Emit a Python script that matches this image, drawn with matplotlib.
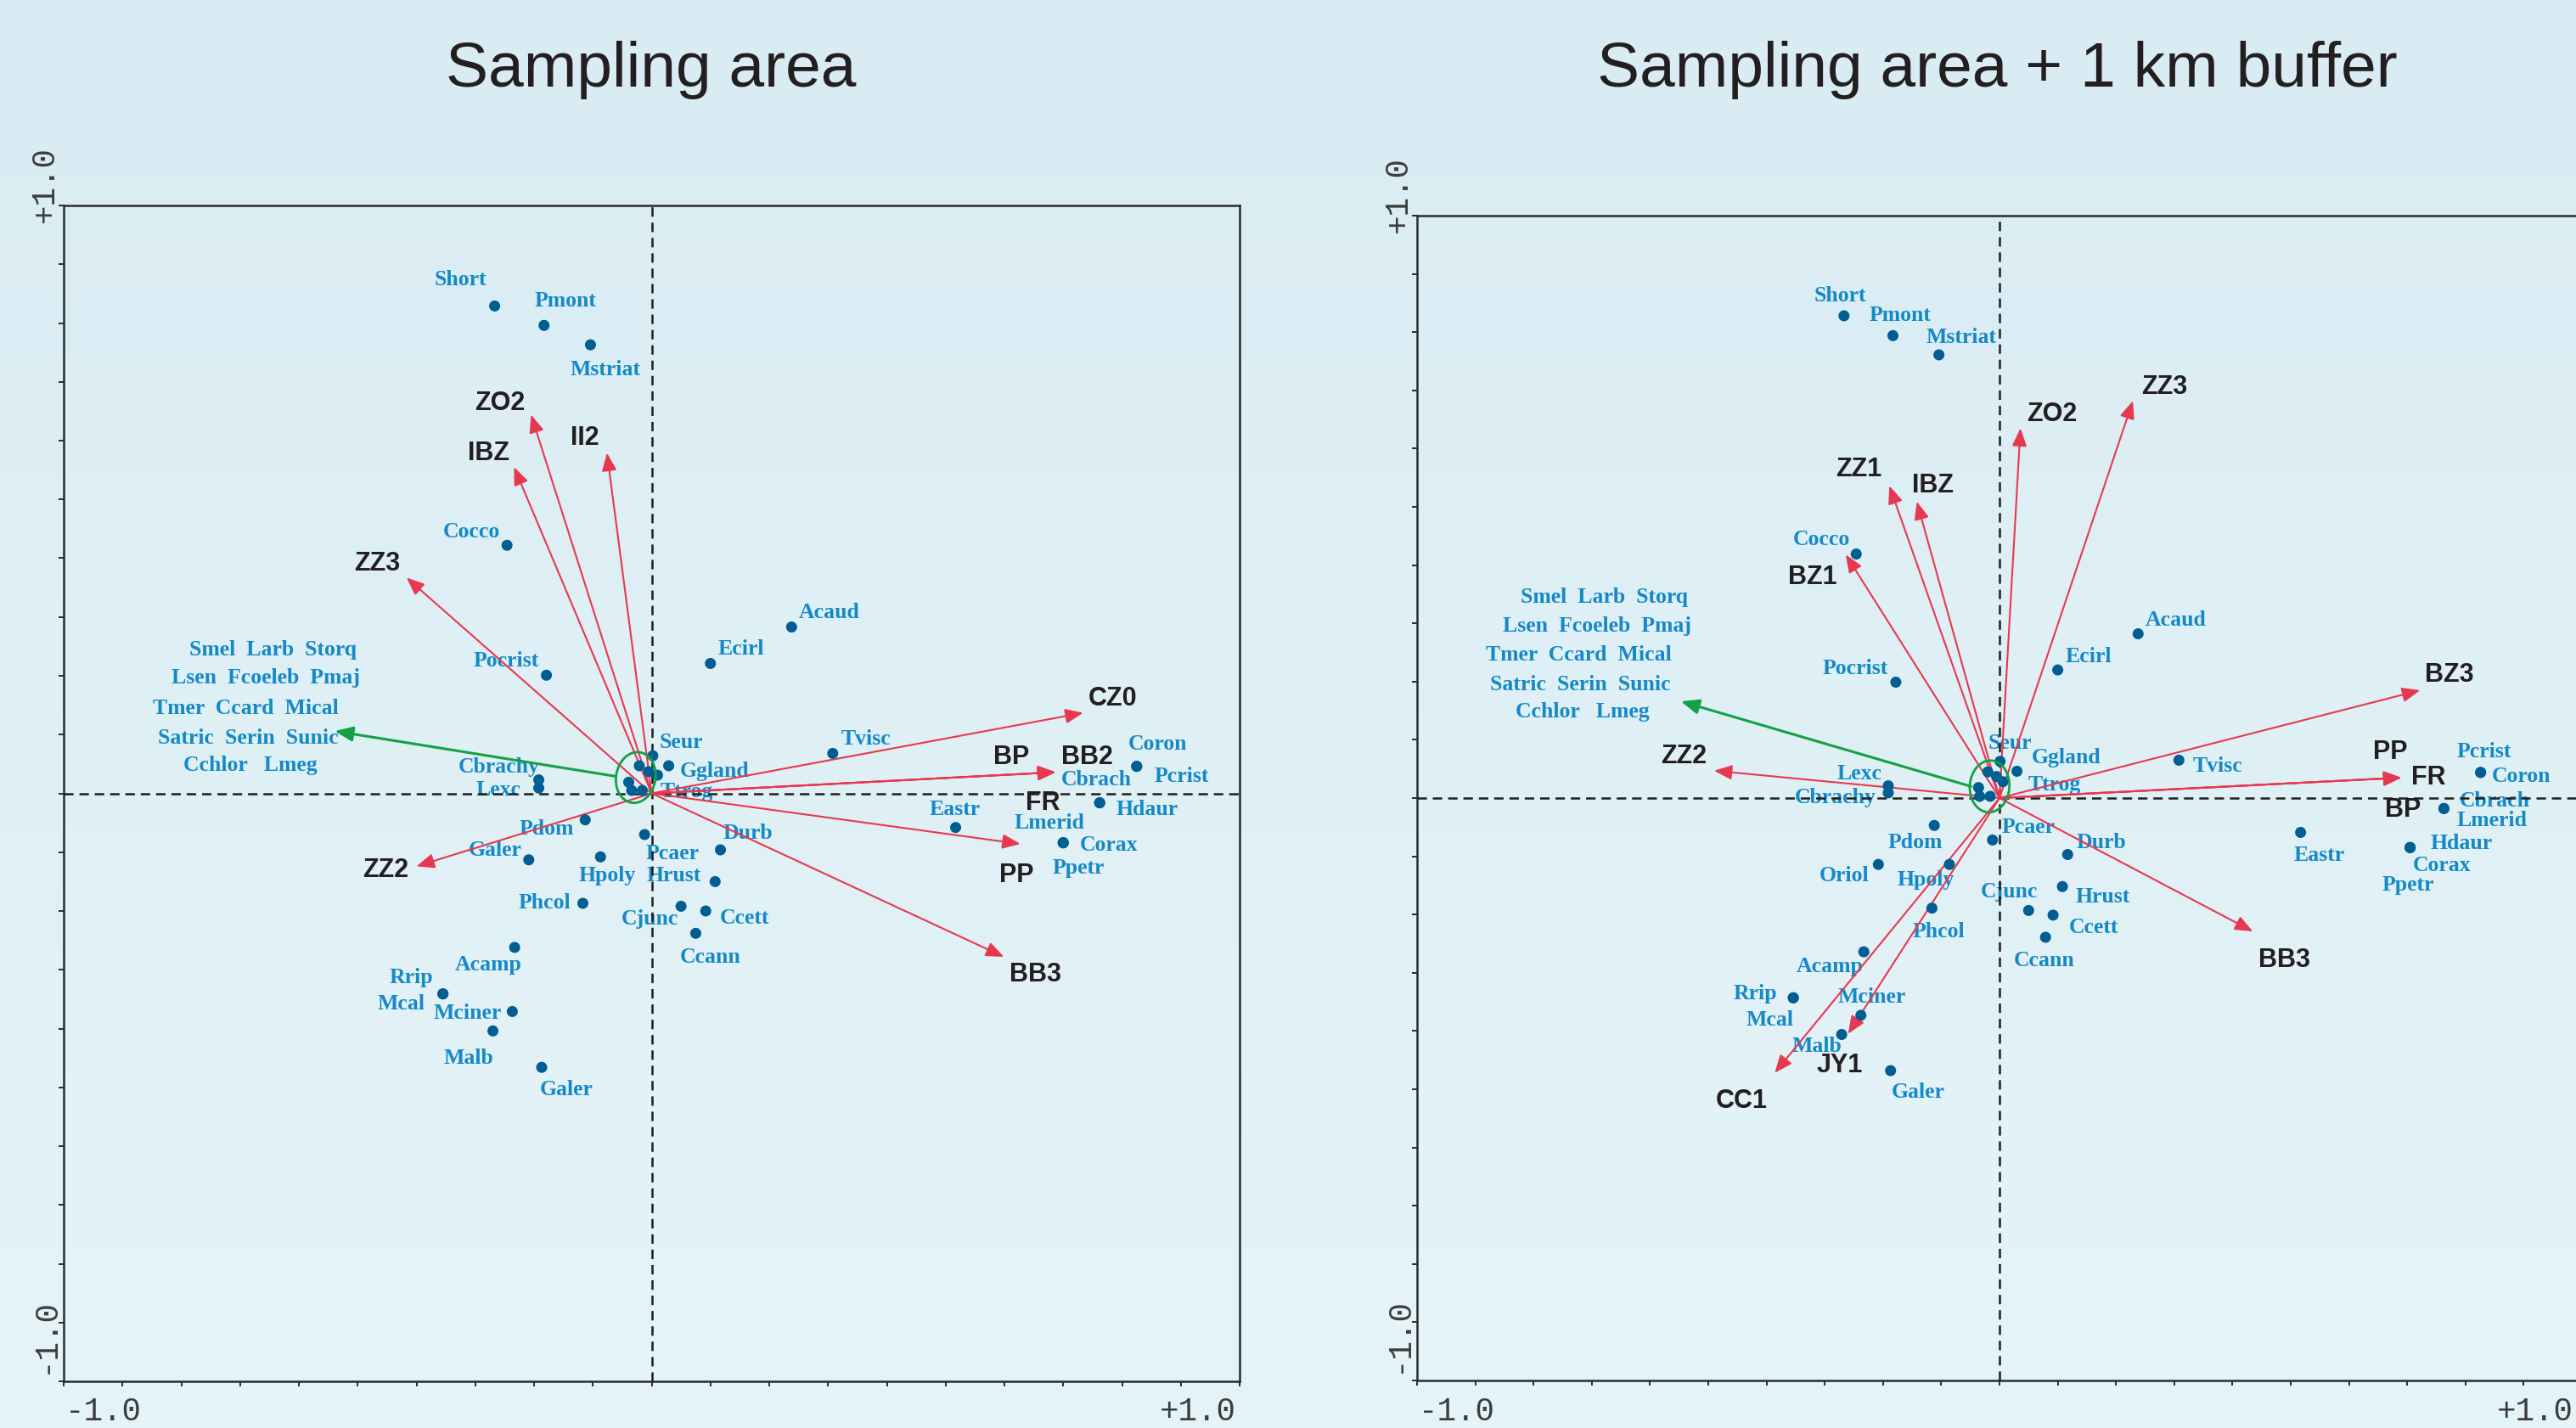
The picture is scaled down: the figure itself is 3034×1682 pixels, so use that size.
import numpy as np
import matplotlib
matplotlib.use("Agg")
import matplotlib.pyplot as plt
from matplotlib.patches import Ellipse

plt.rcParams['lines.scale_dashes'] = False

# ---------------- DATA ----------------
titles = ["Sampling area", "Sampling area + 1 km buffer"]

# Left panel – species scores
L_species = ["Short", "Pmont", "Mstriat", "Cocco", "Pocrist", "Cbrachy", "Lexc", "Seur", "Ggland", "Ttrog",
             "Acaud", "Ecirl", "Tvisc", "Coron", "Pcrist", "Cbrach", "Hdaur", "Lmerid", "Corax", "Ppetr",
             "Eastr", "Durb", "Pcaer", "Hrust", "Hpoly", "Cjunc", "Ccett", "Ccann", "Pdom", "Galer",
             "Phcol", "Acamp", "Rrip", "Mcal", "Mciner", "Malb", "Galer"]
L_x = [-0.267, -0.183, -0.104, -0.246, -0.179, -0.192, -0.192, 0.002, 0.029, 0.010,
       0.238, 0.100, 0.308, 0.825, 0.825, 0.762, 0.762, 0.700, 0.700, 0.700,
       0.517, 0.117, -0.012, 0.108, -0.087, 0.050, 0.092, 0.075, -0.113, -0.209,
       -0.117, -0.233, -0.355, -0.355, -0.237, -0.270, -0.187]
L_y = [0.829, 0.796, 0.763, 0.422, 0.201, 0.023, 0.009, 0.064, 0.047, 0.031,
       0.283, 0.221, 0.068, 0.046, 0.046, -0.016, -0.016, -0.084, -0.084, -0.084,
       -0.058, -0.096, -0.070, -0.150, -0.108, -0.192, -0.200, -0.238, -0.045, -0.113,
       -0.187, -0.262, -0.341, -0.341, -0.371, -0.404, -0.466]
# unlabelled species in the central cluster
L_cluster_x = [-0.021, -0.005, -0.039, -0.034, -0.016]
L_cluster_y = [0.047, 0.037, 0.019, 0.005, 0.005]
L_cluster_names = ["Smel  Larb  Storq", "Lsen  Fcoeleb  Pmaj", "Tmer  Ccard  Mical",
                   "Satric  Serin  Sunic", "Cchlor   Lmeg"]

# Left panel – environmental arrows
L_env = ["ZO2", "IBZ", "II2", "ZZ3", "CZ0", "BP", "BB2", "FR", "PP", "BB3", "ZZ2"]
L_env_x = [-0.205, -0.234, -0.076, -0.417, 0.734, 0.687, 0.687, 0.687, 0.627, 0.599, -0.400]
L_env_y = [0.644, 0.555, 0.579, 0.367, 0.137, 0.036, 0.036, 0.036, -0.086, -0.278, -0.124]
L_group_tip = (-0.539, 0.106)

# Right panel – species scores
R_species = ["Short", "Pmont", "Mstriat", "Cocco", "Pocrist", "Acaud", "Ecirl", "Tvisc", "Pcrist", "Coron",
             "Cbrach", "Lmerid", "Hdaur", "Corax", "Ppetr", "Eastr", "Seur", "Ggland", "Ttrog", "Lexc",
             "Cbrachy", "Pdom", "Pcaer", "Oriol", "Hpoly", "Phcol", "Durb", "Hrust", "Cjunc", "Ccett",
             "Ccann", "Acamp", "Rrip", "Mcal", "Mciner", "Malb", "Galer"]
R_x = [-0.267, -0.183, -0.104, -0.246, -0.178, 0.238, 0.100, 0.308, 0.826, 0.826,
       0.763, 0.763, 0.705, 0.705, 0.705, 0.517, 0.001, 0.030, 0.006, -0.191,
       -0.191, -0.112, -0.012, -0.208, -0.086, -0.116, 0.117, 0.108, 0.050, 0.092,
       0.079, -0.233, -0.354, -0.354, -0.238, -0.271, -0.187]
R_y = [0.828, 0.794, 0.761, 0.419, 0.199, 0.282, 0.220, 0.065, 0.044, 0.044,
       -0.018, -0.018, -0.085, -0.085, -0.085, -0.059, 0.063, 0.046, 0.028, 0.021,
       0.009, -0.047, -0.072, -0.114, -0.114, -0.189, -0.097, -0.152, -0.193, -0.201,
       -0.239, -0.264, -0.343, -0.343, -0.373, -0.406, -0.468]
R_cluster_x = [-0.020, -0.005, -0.036, -0.034, -0.016]
R_cluster_y = [0.045, 0.037, 0.018, 0.003, 0.003]
R_cluster_names = L_cluster_names

# Right panel – environmental arrows
R_env = ["ZO2", "ZZ3", "ZZ1", "IBZ", "BZ1", "ZZ2", "BZ3", "FR", "PP", "BP", "BB3", "JY1", "CC1"]
R_env_x = [0.036, 0.229, -0.189, -0.142, -0.264, -0.490, 0.722, 0.690, 0.690, 0.690, 0.435, -0.260, -0.386]
R_env_y = [0.635, 0.682, 0.536, 0.509, 0.418, 0.047, 0.185, 0.035, 0.035, 0.035, -0.229, -0.405, -0.472]
R_group_tip = (-0.547, 0.166)

# ---------------- LAYOUT (label placement, styles) ----------------
L_lab_pos = [(-0.325, 0.874), (-0.146, 0.838), (-0.079, 0.720), (-0.306, 0.445), (-0.247, 0.225),
             (-0.260, 0.045), (-0.260, 0.006), (0.050, 0.087), (0.107, 0.038), (0.060, 0.003),
             (0.302, 0.307), (0.152, 0.246), (0.364, 0.092), (0.861, 0.084), (0.901, 0.029),
             (0.757, 0.023), (0.843, -0.027), (0.677, -0.050), (0.778, -0.088), (0.726, -0.127),
             (0.515, -0.027), (0.164, -0.068), (0.036, -0.102), (0.038, -0.140), (-0.076, -0.140),
             (-0.003, -0.214), (0.158, -0.212), (0.100, -0.278), (-0.178, -0.061), (-0.266, -0.097),
             (-0.182, -0.186), (-0.278, -0.292), (-0.409, -0.313), (-0.426, -0.358), (-0.313, -0.374),
             (-0.312, -0.450), (-0.145, -0.504)]
L_env_lab_pos = [(-0.258, 0.664), (-0.277, 0.579), (-0.113, 0.604), (-0.467, 0.391), (0.784, 0.161),
                 (0.612, 0.062), (0.741, 0.062), (0.666, -0.016), (0.620, -0.140), (0.653, -0.308),
                 (-0.452, -0.130)]
L_block_pos = [(-0.787, 0.244), (-0.817, 0.196), (-0.848, 0.145), (-0.840, 0.094), (-0.796, 0.047)]
L_group_start = (-0.061, 0.029)
L_ellipse = dict(xy=(-0.027, 0.027), width=0.067, height=0.087, angle=-10)

R_lab_pos = [(-0.274, 0.862), (-0.171, 0.828), (-0.065, 0.791), (-0.306, 0.444), (-0.247, 0.223),
             (0.303, 0.306), (0.153, 0.243), (0.374, 0.054), (0.832, 0.079), (0.896, 0.037),
             (0.850, -0.005), (0.845, -0.038), (0.793, -0.078), (0.759, -0.116), (0.701, -0.150),
             (0.549, -0.099), (0.018, 0.094), (0.115, 0.069), (0.095, 0.023), (-0.241, 0.042),
             (-0.282, 0.001), (-0.144, -0.076), (0.050, -0.051), (-0.267, -0.134), (-0.127, -0.141),
             (-0.104, -0.229), (0.175, -0.076), (0.178, -0.170), (0.017, -0.161), (0.162, -0.222),
             (0.077, -0.279), (-0.292, -0.289), (-0.419, -0.336), (-0.394, -0.381), (-0.219, -0.342),
             (-0.314, -0.427), (-0.139, -0.505)]
R_env_lab_pos = [(0.090, 0.659), (0.283, 0.706), (-0.242, 0.564), (-0.115, 0.537), (-0.321, 0.379),
                 (-0.542, 0.072), (0.773, 0.211), (0.736, 0.035), (0.671, 0.079), (0.692, -0.020),
                 (0.489, -0.279), (-0.274, -0.459), (-0.443, -0.521)]
R_block_pos = [(-0.822, 0.345), (-0.853, 0.295), (-0.882, 0.245), (-0.875, 0.195), (-0.831, 0.148)]
R_group_start = (-0.049, 0.020)
R_ellipse = dict(xy=(-0.017, 0.020), width=0.068, height=0.089, angle=-4)

W, H = 3034, 1682
DPI = 100
DOT_C = "#005e92"
SP_C = "#1589c6"
ARROW_C = "#e8384f"
GREEN_C = "#14a046"
TXT_C = "#231f20"
AX_C = "#2b2b2b"

fig = plt.figure(figsize=(W / DPI, H / DPI), dpi=DPI)

# background gradient
bg = fig.add_axes([0, 0, 1, 1], zorder=-10)
top = np.array([217, 236, 243]) / 255
bot = np.array([229, 244, 248]) / 255
t = np.linspace(0, 1, 256)[:, None, None]
grad = top * (1 - t) + bot * t
bg.imshow(np.repeat(grad, 2, axis=1), aspect="auto", extent=[0, 1, 0, 1])
bg.axis("off")


def px_axes(left, top_, right, bottom):
    return [left / W, 1 - bottom / H, (right - left) / W, (bottom - top_) / H]


def draw_panel(rect, title, title_x, sp_names, sx, sy, lab_pos, cx, cy, block_names, block_pos,
               env, ex, ey, env_lab, g_start, g_tip, ell, right_label_px):
    ax = fig.add_axes(rect)
    ax.set_facecolor("none")
    ax.set_xlim(-1, 1)
    ax.set_ylim(-1, 1)
    for s in ax.spines.values():
        s.set_color(AX_C)
        s.set_linewidth(1.8)
    ax.set_xticks(np.linspace(-1, 1, 21))
    ax.set_yticks(np.linspace(-1, 1, 21))
    ax.tick_params(axis="both", direction="out", length=4.5, width=1.4, color=AX_C,
                   labelbottom=False, labelleft=False)

    # zero lines
    ax.axhline(0, color="#1e1e1e", lw=1.8, dashes=(8, 5), zorder=3)
    ax.axvline(0, color="#1e1e1e", lw=1.8, dashes=(8, 5), zorder=3)

    # species labels
    for name, (lx, ly) in zip(sp_names, lab_pos):
        ax.text(lx, ly, name, ha="center", va="center", fontsize=18.5, fontweight="bold",
                family="Liberation Serif", color=SP_C, zorder=2)
    for name, (lx, ly) in zip(block_names, block_pos):
        ax.text(lx, ly, name, ha="left", va="center", fontsize=18.5, fontweight="bold",
                family="Liberation Serif", color=SP_C, zorder=2)

    # environmental arrows
    for name, x, y, (lx, ly) in zip(env, ex, ey, env_lab):
        ax.annotate("", xy=(x, y), xytext=(0, 0),
                    arrowprops=dict(arrowstyle="-|>,head_length=0.85,head_width=0.35",
                                    mutation_scale=15, color=ARROW_C, lw=1.5,
                                    shrinkA=0, shrinkB=0), zorder=4)
        ax.text(lx, ly, name, ha="center", va="center", fontsize=22, fontweight="bold",
                family="Liberation Sans", color=TXT_C, zorder=5)

    # group arrow + ellipse
    ax.annotate("", xy=g_tip, xytext=g_start,
                arrowprops=dict(arrowstyle="-|>,head_length=0.85,head_width=0.35",
                                mutation_scale=15, color=GREEN_C, lw=2.2,
                                shrinkA=0, shrinkB=0), zorder=4)
    ax.add_patch(Ellipse(ell["xy"], ell["width"], ell["height"], angle=ell["angle"],
                         fill=False, edgecolor=GREEN_C, lw=2.0, zorder=6))

    # species points
    ax.scatter(sx, sy, s=88, color=DOT_C, edgecolors="none", zorder=5)
    ax.scatter(cx, cy, s=88, color=DOT_C, edgecolors="none", zorder=5)

    # end labels (placed in figure pixels)
    mono = dict(family="Liberation Mono", fontsize=27, color="#3c3c3c")
    x0 = rect[0] * W
    yb = (1 - rect[1]) * H          # bottom of axes in px from top
    yt = yb - rect[3] * H           # top of axes in px from top
    fig.text((x0 + 2) / W, 1 - 1681 / H, "-1.0", ha="left", va="bottom", **mono)
    fig.text(right_label_px / W, 1 - 1681 / H, "+1.0", ha="right", va="bottom", **mono)
    fig.text((x0 - 22) / W, 1 - (yb - 9) / H, "-1.0", ha="center", va="bottom", rotation=90, **mono)
    fig.text((x0 - 22) / W, 1 - (yt + 20) / H, "+1.0", ha="center", va="bottom", rotation=90, **mono)

    fig.text(title_x / W, 1 - 102 / H, title, ha="center", va="baseline", fontsize=54,
             family="Liberation Sans", color=TXT_C)
    return ax


draw_panel(px_axes(75, 242, 1460, 1627), titles[0], 767,
           L_species, L_x, L_y, L_lab_pos, L_cluster_x, L_cluster_y, L_cluster_names, L_block_pos,
           L_env, L_env_x, L_env_y, L_env_lab_pos, L_group_start, L_group_tip, L_ellipse, 1456)
draw_panel(px_axes(1669, 254, 3041, 1626), titles[1], 2352,
           R_species, R_x, R_y, R_lab_pos, R_cluster_x, R_cluster_y, R_cluster_names, R_block_pos,
           R_env, R_env_x, R_env_y, R_env_lab_pos, R_group_start, R_group_tip, R_ellipse, 3031)

fig.savefig("out.png", dpi=DPI)
